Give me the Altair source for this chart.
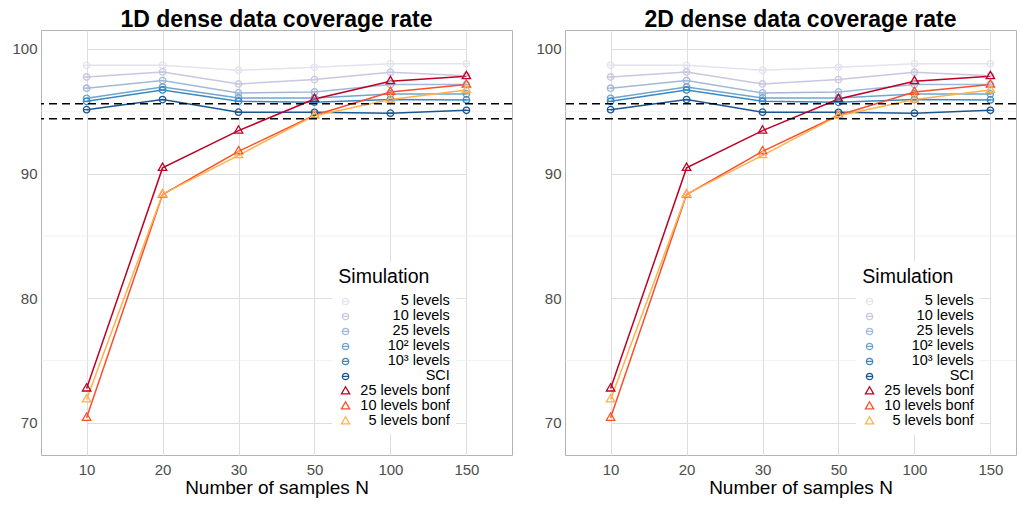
import altair as alt
import pandas as pd

FONT = "Liberation Sans"

# ---- data ----
n_samples = ["10", "20", "30", "50", "100", "150"]
series_names = ["5 levels", "10 levels", "25 levels", "10² levels", "10³ levels", "SCI",
                "25 levels bonf", "10 levels bonf", "5 levels bonf"]
cov_5 = [98.69, 98.69, 98.29, 98.53, 98.82, 98.82]
cov_10 = [97.75, 98.16, 97.19, 97.54, 98.13, 97.86]
cov_25 = [96.85, 97.46, 96.47, 96.55, 97.14, 97.14]
cov_1e2 = [96.04, 96.95, 96.07, 96.07, 96.39, 96.39]
cov_1e3 = [95.80, 96.71, 95.80, 95.72, 95.94, 95.91]
cov_sci = [95.13, 95.94, 94.93, 94.92, 94.85, 95.08]
cov_25b = [72.76, 90.46, 93.45, 95.99, 97.41, 97.81]
cov_10b = [70.41, 88.32, 91.79, 94.68, 96.55, 97.14]
cov_5b = [71.88, 88.35, 91.47, 94.65, 95.94, 96.71]
all_series = [cov_5, cov_10, cov_25, cov_1e2, cov_1e3, cov_sci, cov_25b, cov_10b, cov_5b]

ref_lines = [94.4, 95.6]
major_ticks = [70, 80, 90, 100]
minor_grid = [75, 85, 95]

colors = ["#e4e2f0", "#c7c8e2", "#a2b8da", "#6fa6d0", "#3a88c0", "#1c5690",
          "#bd0026", "#fc4e2a", "#feb24c"]
circle_path = "M-1,0A1,1,0,1,1,1,0A1,1,0,1,1,-1,0ZM-1,0L1,0"
tri_path = "M0,-1.5L1.3,0.75L-1.3,0.75Z"
shapes = [circle_path] * 6 + [tri_path] * 3

rows = []
for name, vals in zip(series_names, all_series):
    for n, v in zip(n_samples, vals):
        rows.append({"Simulation": name, "N": n, "value": v})
df = pd.DataFrame(rows)
ref_df = pd.DataFrame({"v": ref_lines})
minor_df = pd.DataFrame({"v": minor_grid})

Y_DOMAIN = [67.43, 101.52]


def panel(title_text, width, title_dx):
    y_scale = alt.Scale(domain=Y_DOMAIN, nice=False, zero=False)
    y_axis = alt.Axis(values=major_ticks, title=None, labelFontSize=15, labelColor="#4d4d4d",
                      labelFont=FONT, ticks=False, tickSize=0, domain=False, labelPadding=4,
                      minExtent=32, maxExtent=32, grid=True, gridColor="#dedede",
                      gridWidth=1)
    x_enc = alt.X("N:O", sort=n_samples,
                  scale=alt.Scale(type="point", padding=0, range=[45.6, 425.4]),
                  axis=alt.Axis(title="Number of samples N", labelAngle=0, labelFontSize=15,
                                labelColor="#4d4d4d", labelFont=FONT, titleFont=FONT,
                                titleFontSize=19, titleFontWeight="normal", titleColor="black",
                                ticks=False, tickSize=0, domain=False, labelPadding=7,
                                titlePadding=1, titleX=235.5, titleAnchor="middle",
                                grid=True, gridColor="#dedede", gridWidth=1))
    legend = alt.Legend(title="Simulation", orient="none", legendX=291.3, legendY=231.6,
                        fillColor="white", padding=6, titleFontSize=19.5, titleFont=FONT,
                        titleFontWeight="normal", titleColor="black", labelFontSize=14.5,
                        labelFont=FONT, labelColor="black", labelAlign="right",
                        labelOffset=97, symbolSize=40, symbolStrokeWidth=1.3,
                        rowPadding=0, titlePadding=7.1)
    color_scale = alt.Scale(domain=series_names, range=colors)
    shape_scale = alt.Scale(domain=series_names, range=shapes)

    minor = alt.Chart(minor_df).mark_rule(color="#ebebeb", strokeWidth=0.7).encode(
        y=alt.Y("v:Q", scale=y_scale, axis=y_axis))
    lines = alt.Chart(df).mark_line(strokeWidth=1.5).encode(
        x=x_enc,
        y=alt.Y("value:Q", scale=y_scale, axis=y_axis),
        color=alt.Color("Simulation:N", sort=series_names, scale=color_scale, legend=legend),
    )
    points = alt.Chart(df).mark_point(filled=False, strokeWidth=1.3, size=42, opacity=1).encode(
        x=x_enc,
        y=alt.Y("value:Q", scale=y_scale, axis=y_axis),
        color=alt.Color("Simulation:N", sort=series_names, scale=color_scale, legend=legend),
        shape=alt.Shape("Simulation:N", sort=series_names, scale=shape_scale, legend=legend),
    )
    refs = alt.Chart(ref_df).mark_rule(color="black", strokeWidth=1.6, strokeDash=[8, 5]).encode(
        y=alt.Y("v:Q", scale=y_scale, axis=y_axis))
    return alt.layer(minor, lines, points, refs).properties(
        width=width, height=425,
        title=alt.TitleParams(title_text, fontSize=23, fontWeight="bold", font=FONT,
                              color="black", anchor="middle", offset=-2, dx=title_dx),
    )


chart = alt.hconcat(panel("1D dense data coverage rate", 471, 0),
                    panel("2D dense data coverage rate", 451, 10), spacing=18).resolve_legend(
    color="independent", shape="independent"
).resolve_scale(color="independent", shape="independent").properties(
    padding={"left": 0, "top": 0, "right": 0, "bottom": 0}
).configure_view(stroke="#b3b3b3", strokeWidth=1)

chart.save("out.html", embed_options={"renderer": "svg", "actions": False})
